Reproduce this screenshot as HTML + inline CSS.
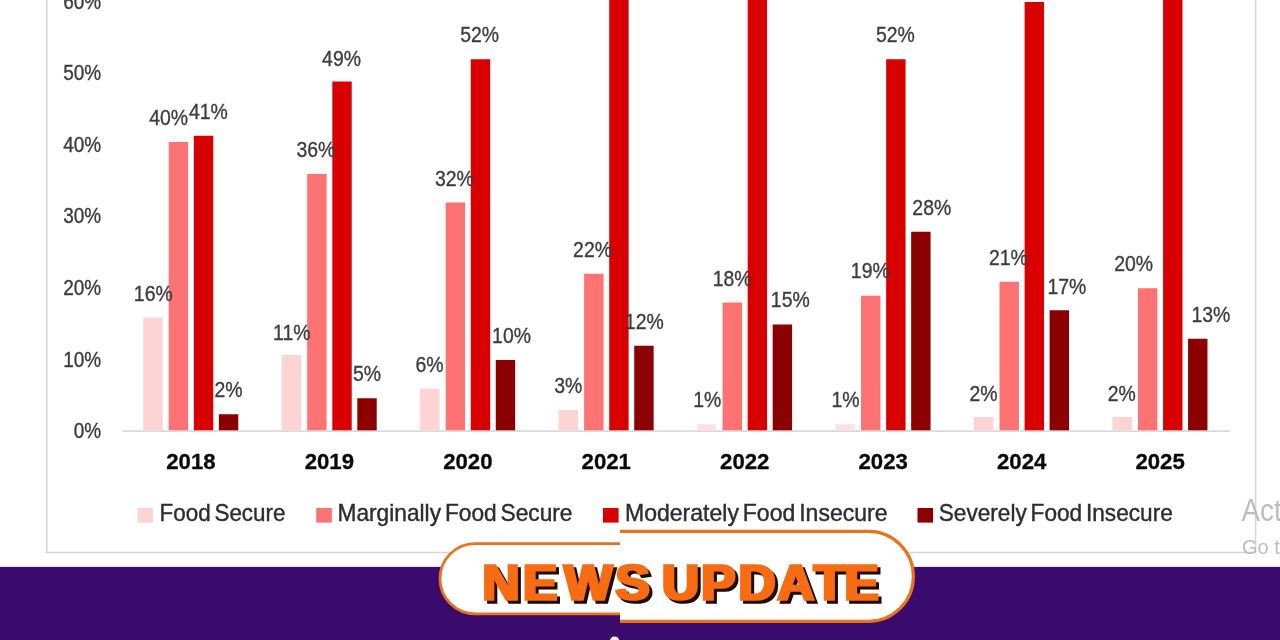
<!DOCTYPE html>
<html lang="en"><head><meta charset="utf-8"><title>News Update</title>
<style>
html,body{margin:0;padding:0;background:#fff;}
body{width:1280px;height:640px;overflow:hidden;position:relative;font-family:"Liberation Sans",sans-serif;}
svg{display:block;position:absolute;left:0;top:0;}
text{font-family:"Liberation Sans",sans-serif;}
.dl{font-size:18.8px;fill:#3c3c42;stroke:#3c3c42;stroke-width:0.3px;}
.ax{font-size:18.8px;fill:#3a3a40;stroke:#3a3a40;stroke-width:0.3px;}
.yr{font-size:22.2px;font-weight:bold;fill:#0a0a0a;stroke:#0a0a0a;stroke-width:0.3px;}
.lg{word-spacing:-2.5px;font-size:23.2px;fill:#2c2c34;stroke:#2c2c34;stroke-width:0.4px;}
.wm{fill:#bdbdbd;}
.nu{font-weight:bold;font-size:50px;}
</style></head><body>
<svg width="1280" height="640" viewBox="0 0 1280 640">
<rect x="0" y="0" width="1280" height="640" fill="#ffffff"/>
<path d="M46.7 -2 V552.5 H1255.6 V-2" fill="none" stroke="#d6d6d6" stroke-width="1.6"/>
<rect x="0" y="566.9" width="1280" height="74" fill="#3a0a6c"/>
<rect x="122.5" y="430.3" width="1107.5" height="1.6" fill="#d6d6d6"/>
<rect x="143.25" y="317.50" width="19.40" height="112.80" fill="#fdd3d3"/>
<rect x="168.75" y="142.00" width="19.40" height="288.30" fill="#fd7272"/>
<rect x="193.85" y="135.75" width="19.40" height="294.55" fill="#d90000"/>
<rect x="218.85" y="414.25" width="19.40" height="16.05" fill="#8b0000"/>
<rect x="281.71" y="355.00" width="19.40" height="75.30" fill="#fdd3d3"/>
<rect x="307.21" y="174.00" width="19.40" height="256.30" fill="#fd7272"/>
<rect x="332.31" y="81.50" width="19.40" height="348.80" fill="#d90000"/>
<rect x="357.31" y="398.25" width="19.40" height="32.05" fill="#8b0000"/>
<rect x="420.17" y="388.75" width="19.40" height="41.55" fill="#fdd3d3"/>
<rect x="445.67" y="202.50" width="19.40" height="227.80" fill="#fd7272"/>
<rect x="470.77" y="59.25" width="19.40" height="371.05" fill="#d90000"/>
<rect x="495.77" y="360.00" width="19.40" height="70.30" fill="#8b0000"/>
<rect x="558.63" y="410.00" width="19.40" height="20.30" fill="#fdd3d3"/>
<rect x="584.13" y="273.75" width="19.40" height="156.55" fill="#fd7272"/>
<rect x="609.23" y="-5.00" width="19.40" height="435.30" fill="#d90000"/>
<rect x="634.23" y="345.75" width="19.40" height="84.55" fill="#8b0000"/>
<rect x="697.09" y="424.25" width="19.40" height="6.05" fill="#fbe2e2"/>
<rect x="722.59" y="302.50" width="19.40" height="127.80" fill="#fd7272"/>
<rect x="747.69" y="-5.00" width="19.40" height="435.30" fill="#d90000"/>
<rect x="772.69" y="324.50" width="19.40" height="105.80" fill="#8b0000"/>
<rect x="835.55" y="424.25" width="19.40" height="6.05" fill="#fbe2e2"/>
<rect x="861.05" y="295.75" width="19.40" height="134.55" fill="#fd7272"/>
<rect x="886.15" y="59.25" width="19.40" height="371.05" fill="#d90000"/>
<rect x="911.15" y="231.75" width="19.40" height="198.55" fill="#8b0000"/>
<rect x="974.01" y="417.00" width="19.40" height="13.30" fill="#fdd3d3"/>
<rect x="999.51" y="281.75" width="19.40" height="148.55" fill="#fd7272"/>
<rect x="1024.61" y="2.00" width="19.40" height="428.30" fill="#d90000"/>
<rect x="1049.61" y="310.25" width="19.40" height="120.05" fill="#8b0000"/>
<rect x="1112.47" y="417.00" width="19.40" height="13.30" fill="#fdd3d3"/>
<rect x="1137.97" y="288.25" width="19.40" height="142.05" fill="#fd7272"/>
<rect x="1163.07" y="-5.00" width="19.40" height="435.30" fill="#d90000"/>
<rect x="1188.07" y="338.75" width="19.40" height="91.55" fill="#8b0000"/>
<text class="ax" transform="translate(101.2,8.75) scale(1.01,1.14)" x="0" y="0" text-anchor="end">60%</text>
<text class="ax" transform="translate(101.2,80.30) scale(1.01,1.14)" x="0" y="0" text-anchor="end">50%</text>
<text class="ax" transform="translate(101.2,151.90) scale(1.01,1.14)" x="0" y="0" text-anchor="end">40%</text>
<text class="ax" transform="translate(101.2,223.40) scale(1.01,1.14)" x="0" y="0" text-anchor="end">30%</text>
<text class="ax" transform="translate(101.2,295.00) scale(1.01,1.14)" x="0" y="0" text-anchor="end">20%</text>
<text class="ax" transform="translate(101.2,366.50) scale(1.01,1.14)" x="0" y="0" text-anchor="end">10%</text>
<text class="ax" transform="translate(101.2,438.00) scale(1.01,1.14)" x="0" y="0" text-anchor="end">0%</text>
<text class="dl" transform="translate(153.32,300.90) scale(1.035,1.14)" x="0" y="0" text-anchor="middle">16%</text>
<text class="dl" transform="translate(168.70,125.40) scale(1.035,1.14)" x="0" y="0" text-anchor="middle">40%</text>
<text class="dl" transform="translate(208.45,119.15) scale(1.035,1.14)" x="0" y="0" text-anchor="middle">41%</text>
<text class="dl" transform="translate(228.57,397.40) scale(1.035,1.14)" x="0" y="0" text-anchor="middle">2%</text>
<text class="dl" transform="translate(291.82,339.65) scale(1.035,1.14)" x="0" y="0" text-anchor="middle">11%</text>
<text class="dl" transform="translate(315.95,157.40) scale(1.035,1.14)" x="0" y="0" text-anchor="middle">36%</text>
<text class="dl" transform="translate(341.57,65.90) scale(1.035,1.14)" x="0" y="0" text-anchor="middle">49%</text>
<text class="dl" transform="translate(366.95,381.15) scale(1.035,1.14)" x="0" y="0" text-anchor="middle">5%</text>
<text class="dl" transform="translate(429.45,371.90) scale(1.035,1.14)" x="0" y="0" text-anchor="middle">6%</text>
<text class="dl" transform="translate(454.45,185.90) scale(1.035,1.14)" x="0" y="0" text-anchor="middle">32%</text>
<text class="dl" transform="translate(479.70,42.40) scale(1.035,1.14)" x="0" y="0" text-anchor="middle">52%</text>
<text class="dl" transform="translate(511.57,343.40) scale(1.035,1.14)" x="0" y="0" text-anchor="middle">10%</text>
<text class="dl" transform="translate(568.33,392.90) scale(1.035,1.14)" x="0" y="0" text-anchor="middle">3%</text>
<text class="dl" transform="translate(592.58,257.40) scale(1.035,1.14)" x="0" y="0" text-anchor="middle">22%</text>
<text class="dl" transform="translate(644.33,328.65) scale(1.035,1.14)" x="0" y="0" text-anchor="middle">12%</text>
<text class="dl" transform="translate(707.20,407.40) scale(1.035,1.14)" x="0" y="0" text-anchor="middle">1%</text>
<text class="dl" transform="translate(732.20,286.15) scale(1.035,1.14)" x="0" y="0" text-anchor="middle">18%</text>
<text class="dl" transform="translate(790.33,307.15) scale(1.035,1.14)" x="0" y="0" text-anchor="middle">15%</text>
<text class="dl" transform="translate(845.58,407.40) scale(1.035,1.14)" x="0" y="0" text-anchor="middle">1%</text>
<text class="dl" transform="translate(870.33,278.40) scale(1.035,1.14)" x="0" y="0" text-anchor="middle">19%</text>
<text class="dl" transform="translate(895.45,42.40) scale(1.035,1.14)" x="0" y="0" text-anchor="middle">52%</text>
<text class="dl" transform="translate(931.83,214.65) scale(1.035,1.14)" x="0" y="0" text-anchor="middle">28%</text>
<text class="dl" transform="translate(983.45,400.90) scale(1.035,1.14)" x="0" y="0" text-anchor="middle">2%</text>
<text class="dl" transform="translate(1008.45,264.90) scale(1.035,1.14)" x="0" y="0" text-anchor="middle">21%</text>
<text class="dl" transform="translate(1066.95,293.65) scale(1.035,1.14)" x="0" y="0" text-anchor="middle">17%</text>
<text class="dl" transform="translate(1121.83,400.90) scale(1.035,1.14)" x="0" y="0" text-anchor="middle">2%</text>
<text class="dl" transform="translate(1133.70,271.15) scale(1.035,1.14)" x="0" y="0" text-anchor="middle">20%</text>
<text class="dl" transform="translate(1210.95,321.65) scale(1.035,1.14)" x="0" y="0" text-anchor="middle">13%</text>
<text class="yr" x="190.90" y="469.3" text-anchor="middle">2018</text>
<text class="yr" x="329.36" y="469.3" text-anchor="middle">2019</text>
<text class="yr" x="467.82" y="469.3" text-anchor="middle">2020</text>
<text class="yr" x="606.28" y="469.3" text-anchor="middle">2021</text>
<text class="yr" x="744.74" y="469.3" text-anchor="middle">2022</text>
<text class="yr" x="883.20" y="469.3" text-anchor="middle">2023</text>
<text class="yr" x="1021.66" y="469.3" text-anchor="middle">2024</text>
<text class="yr" x="1160.12" y="469.3" text-anchor="middle">2025</text>
<rect x="137.50" y="508" width="15.6" height="14.6" fill="#fdd3d3"/>
<text class="lg" x="159.50" y="521.2" textLength="126.0" lengthAdjust="spacingAndGlyphs">Food Secure</text>
<rect x="316.25" y="508" width="15.6" height="14.6" fill="#fd7272"/>
<text class="lg" x="337.50" y="521.2" textLength="235.0" lengthAdjust="spacingAndGlyphs">Marginally Food Secure</text>
<rect x="603.00" y="508" width="15.6" height="14.6" fill="#d90000"/>
<text class="lg" x="625.00" y="521.2" textLength="262.5" lengthAdjust="spacingAndGlyphs">Moderately Food Insecure</text>
<rect x="917.50" y="508" width="15.6" height="14.6" fill="#8b0000"/>
<text class="lg" x="938.75" y="521.2" textLength="234.0" lengthAdjust="spacingAndGlyphs">Severely Food Insecure</text>
<text class="wm" x="1241.5" y="520.5" font-size="30.5" textLength="40.2" lengthAdjust="spacingAndGlyphs">Act</text>
<text class="wm" x="1242" y="553.6" font-size="20">Go t</text>
<defs>
<clipPath id="cl"><rect x="400" y="500" width="220" height="140"/></clipPath>
<clipPath id="cr"><rect x="620" y="500" width="320" height="140"/></clipPath>
</defs>
<g clip-path="url(#cl)"><rect x="440" y="543.6" width="400" height="70.2" rx="35.1" ry="35.1" fill="#ffffff" stroke="#e8731c" stroke-width="2.8"/></g>
<g clip-path="url(#cr)"><rect x="400" y="531.4" width="513.4" height="90" rx="45" ry="45" fill="#ffffff" stroke="#e8731c" stroke-width="3.2"/></g>
<filter id="nf" x="-5%" y="-20%" width="110%" height="150%" color-interpolation-filters="sRGB">
<feMorphology in="SourceAlpha" operator="dilate" radius="1.1 0" result="d"/>
<feFlood flood-color="#1d0d02" result="c1"/><feComposite in="c1" in2="d" operator="in" result="s0"/>
<feOffset in="s0" dx="3" dy="3" result="sh"/>
<feFlood flood-color="#f76b12" result="c2"/><feComposite in="c2" in2="d" operator="in" result="fg"/>
<feMerge><feMergeNode in="sh"/><feMergeNode in="fg"/></feMerge>
</filter>
<text class="nu" filter="url(#nf)" transform="translate(0,599.90) scale(1.025,1)" x="470.74 510.34 550.26 600.41 639.02 645.87 684.21 720.54 758.23 793.89 824.00" y="0" fill="#f76b12" stroke="#f76b12" stroke-width="1.6" stroke-linejoin="miter">NEWS UPDATE</text>
<circle cx="614.6" cy="641" r="4.6" fill="#ffffff"/>
</svg>
</body></html>
